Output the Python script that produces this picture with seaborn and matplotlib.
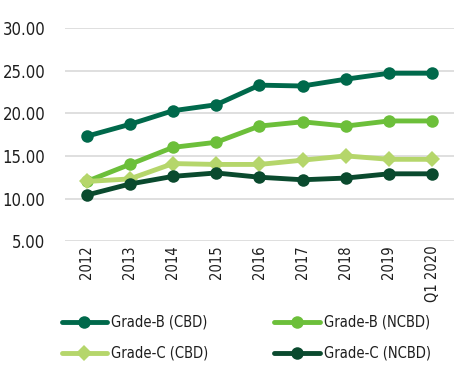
import pandas as pd
import seaborn as sns
import matplotlib
matplotlib.use("Agg")
import matplotlib.pyplot as plt

years = ["2012", "2013", "2014", "2015", "2016", "2017", "2018", "2019", "Q1 2020"]
grade_b_cbd = [17.3, 18.7, 20.3, 21.0, 23.3, 23.2, 24.0, 24.7, 24.7]
grade_b_ncbd = [12.0, 14.0, 16.0, 16.6, 18.5, 19.0, 18.5, 19.1, 19.1]
grade_c_cbd = [12.0, 12.3, 14.1, 14.0, 14.0, 14.5, 15.0, 14.6, 14.6]
grade_c_ncbd = [10.4, 11.7, 12.6, 13.0, 12.5, 12.2, 12.4, 12.9, 12.9]

series_names = ["Grade-B (CBD)", "Grade-B (NCBD)", "Grade-C (CBD)", "Grade-C (NCBD)"]
colors = ["#00694b", "#6cbf3a", "#b5d66b", "#0a4a2e"]
markers = ["o", "o", "D", "o"]


def set_config():
    sns.set_style("white")
    # condensed face to get close to the narrow font of the original
    plt.rcParams["font.family"] = ["DejaVu Sans"]
    plt.rcParams["font.stretch"] = "condensed"


def make_frame():
    rows = []
    for name, vals in zip(series_names, [grade_b_cbd, grade_b_ncbd, grade_c_cbd, grade_c_ncbd]):
        for i, v in enumerate(vals):
            rows.append({"pos": i, "year": years[i], "value": v, "series": name})
    return pd.DataFrame(rows)


def main():
    set_config()
    df = make_frame()

    fig = plt.figure(figsize=(4.64, 3.84), dpi=100)
    ax = fig.add_axes([0.140, 0.372, 0.838, 0.555])

    for name, color, mk in zip(series_names, colors, markers):
        sub = df[df["series"] == name]
        ms = 9 if mk == "o" else 8
        sns.lineplot(data=sub, x="pos", y="value", ax=ax, color=color, lw=3.5,
                     marker=mk, markersize=ms, markeredgewidth=0, label=name)

    ax.set_xlim(-0.5, 8.5)
    ax.set_ylim(5, 30)
    ax.set_yticks([5, 10, 15, 20, 25, 30])
    ax.set_yticklabels([f"{t:.2f}" for t in [5, 10, 15, 20, 25, 30]], fontsize=12, color="#1e1e1e")
    ax.set_xticks(range(len(years)))
    ax.set_xticklabels(years, rotation=90, fontsize=10.5, color="#1e1e1e")
    ax.tick_params(axis="both", length=0)
    ax.tick_params(axis="y", pad=14)
    ax.tick_params(axis="x", pad=3)
    ax.yaxis.grid(True, color="#d9d9d9", lw=1.2)
    ax.set_axisbelow(True)
    for s in ax.spines.values():
        s.set_visible(False)
    ax.set_xlabel("")
    ax.set_ylabel("")

    # legend reads row by row in the original
    handles, labels = ax.get_legend_handles_labels()
    order = [0, 2, 1, 3]
    leg = ax.legend([handles[i] for i in order], [labels[i] for i in order], ncol=2,
                    frameon=False, loc="upper left",
                    bbox_to_anchor=(0.12, 0.195), bbox_transform=fig.transFigure,
                    fontsize=10.5, handlelength=3.15, handletextpad=0.25, columnspacing=4.5,
                    labelspacing=1.1, borderaxespad=0)
    for t in leg.get_texts():
        t.set_color("#1e1e1e")

    fig.savefig("out.png", dpi=100)


if __name__ == "__main__":
    main()
